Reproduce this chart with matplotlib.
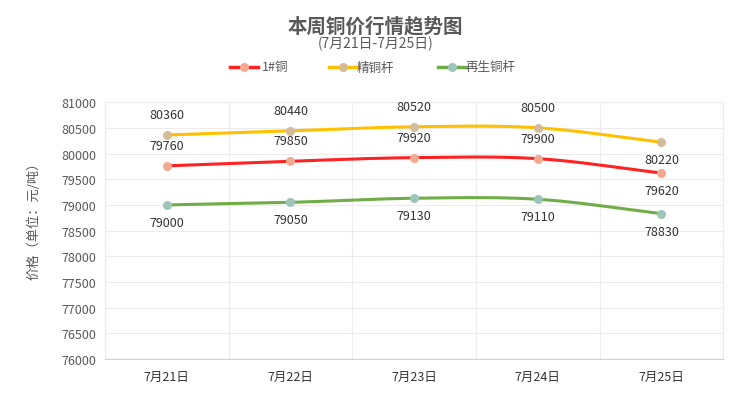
import matplotlib
matplotlib.use("Agg")
import matplotlib.pyplot as plt
import numpy as np

plt.rcParams['font.family'] = ['Noto Sans CJK SC', 'DejaVu Sans']

categories = ["7月21日", "7月22日", "7月23日", "7月24日", "7月25日"]
series_names = ["1#铜", "精铜杆", "再生铜杆"]
copper = [79760, 79850, 79920, 79900, 79620]
rod = [80360, 80440, 80520, 80500, 80220]
recycled = [79000, 79050, 79130, 79110, 78830]
yticks = list(range(76000, 81001, 500))

line_colors = ["#ff2222", "#ffc000", "#70ad47"]
marker_colors = ["#f4a88f", "#d5bc98", "#9dc6b8"]
text_color = "#595959"


def smooth(x, y, n=40):
    x = np.asarray(x, float)
    y = np.asarray(y, float)
    m = np.zeros_like(y)
    m[1:-1] = (y[2:] - y[:-2]) / 2
    m[0] = (y[1] - y[0])
    m[-1] = (y[-1] - y[-2])
    xs, ys = [], []
    for i in range(len(x) - 1):
        t = np.linspace(0, 1, n)
        h00 = 2 * t**3 - 3 * t**2 + 1
        h10 = t**3 - 2 * t**2 + t
        h01 = -2 * t**3 + 3 * t**2
        h11 = t**3 - t**2
        seg = h00 * y[i] + h10 * m[i] + h01 * y[i + 1] + h11 * m[i + 1]
        xs.extend(x[i] + t * (x[i + 1] - x[i]))
        ys.extend(seg)
    return np.array(xs), np.array(ys)


fig = plt.figure(figsize=(7.55, 4.14), dpi=100)
ax = fig.add_axes([0.139, 0.130, 0.819, 0.621])

x = np.arange(len(categories))
data = [copper, rod, recycled]
label_above = [[True, True, True, True, False],
               [True, True, True, True, False],
               [False, False, False, False, False]]

for vals, lc, mc, name, above in zip(data, line_colors, marker_colors, series_names, label_above):
    sx, sy = smooth(x, vals)
    ax.plot(sx, sy, color=lc, lw=2.2, zorder=3, solid_capstyle='round')
    ax.plot(x, vals, 'o', color=mc, ms=5.5, zorder=4)
    for xi, v, a in zip(x, vals, above):
        if a:
            ax.annotate(str(v), (xi, v), xytext=(0, 10), textcoords='offset points',
                        ha='center', va='bottom', fontsize=9, color='#333333')
        else:
            ax.annotate(str(v), (xi, v), xytext=(0, -8), textcoords='offset points',
                        ha='center', va='top', fontsize=9, color='#333333')

ax.set_xlim(-0.5, len(categories) - 0.5)
ax.set_ylim(76000, 81000)
ax.set_yticks(yticks)
ax.set_yticklabels([str(t) for t in yticks], fontsize=9, color=text_color)
ax.set_xticks(x)
ax.set_xticklabels(categories, fontsize=9, color='#333333')
ax.set_xticks(np.arange(-0.5, len(categories), 1), minor=True)
ax.tick_params(axis='x', which='major', length=0, pad=8)
ax.tick_params(axis='x', which='minor', length=0)
ax.tick_params(axis='y', length=0, pad=6)
ax.grid(True, axis='y', color='#ececec', lw=0.8)
ax.grid(True, axis='x', which='minor', color='#ececec', lw=0.8)
for s in ['top', 'right', 'left']:
    ax.spines[s].set_color('#ececec')
ax.spines['bottom'].set_color('#d0d0d0')
ax.set_axisbelow(True)

ax.set_ylabel("价格（单位：元/吨）", fontsize=9.5, color=text_color)
ax.yaxis.set_label_coords(-0.104, 0.553)

fig.text(0.497, 0.935, "本周铜价行情趋势图", ha='center', va='center', fontsize=14,
         fontweight='bold', color=text_color)
fig.text(0.497, 0.893, "(7月21日-7月25日)", ha='center', va='center', fontsize=10,
         color=text_color)

leg_y = 1 - 68 / 414
leg_items = [(230, 262), (329, 357), (438, 466)]
for (lx, tx), lc, mc, name in zip(leg_items, line_colors, marker_colors, series_names):
    x0 = lx / 755
    fig.lines.append(plt.Line2D([x0, x0 + 28 / 755], [leg_y, leg_y], transform=fig.transFigure,
                                color=lc, lw=2.5))
    fig.lines.append(plt.Line2D([x0 + 14 / 755], [leg_y], transform=fig.transFigure,
                                marker='o', color=mc, ms=5.5, lw=0))
    fig.text(tx / 755, leg_y, name, ha='left', va='center', fontsize=9, color=text_color)

fig.savefig("out.png", dpi=100, facecolor='white')
